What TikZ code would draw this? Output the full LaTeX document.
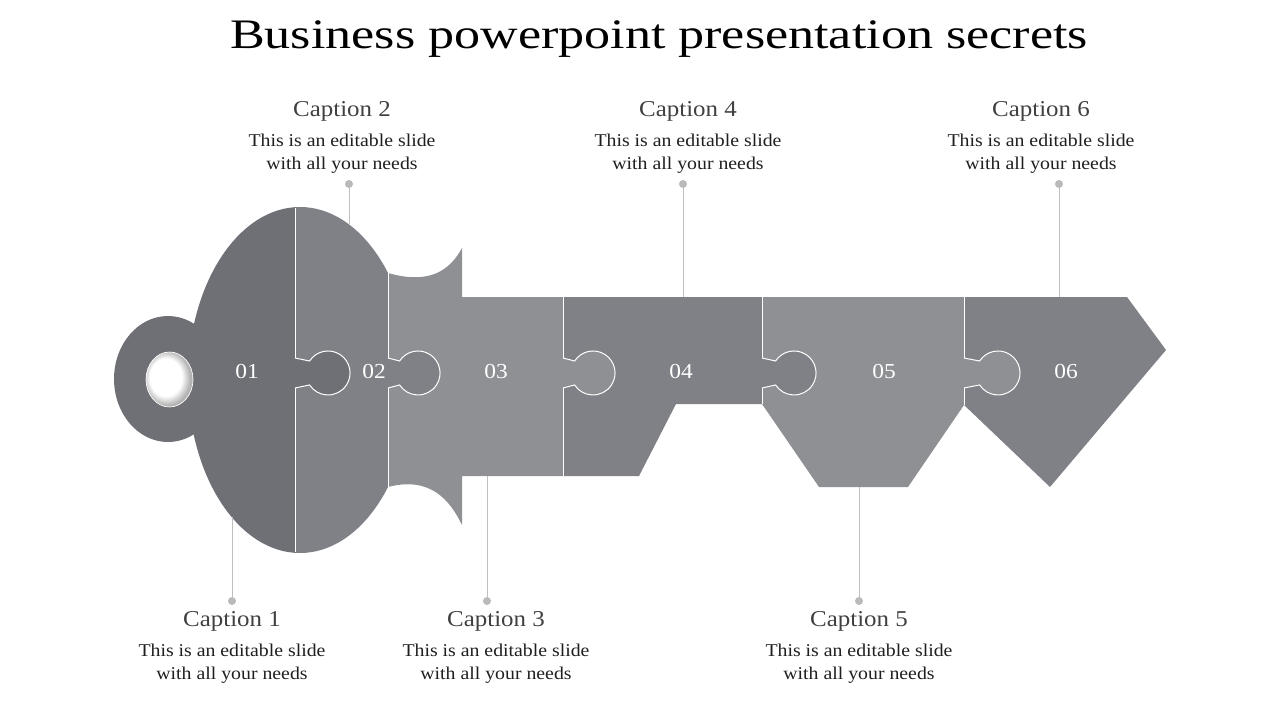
\documentclass[tikz,border=0pt]{standalone}
\usepackage{fontspec}
\setmainfont{Liberation Serif}[FakeStretch=1.1]
\newfontfamily\titlefont{Liberation Serif}[FakeStretch=1.24]
\definecolor{keyA}{RGB}{111,112,117}
\definecolor{keyB}{RGB}{127,129,134}
\definecolor{keyC}{RGB}{142,144,148}
\definecolor{capgray}{RGB}{64,64,64}
\pgfdeclareradialshading{holeshade}{\pgfpoint{-6bp}{3bp}}{color(0bp)=(white); color(17bp)=(white); color(25bp)=(black!30); color(50bp)=(black!30)}
\begin{document}
\begin{tikzpicture}[x=0.75pt,y=-0.75pt,
    numlabel/.style={text=white,font=\fontsize{16}{16}\selectfont},
    captitle/.style={text=capgray,anchor=base,font=\fontsize{17}{17}\selectfont},
    captext/.style={text=black!88,anchor=base,align=center,font=\fontsize{13.5}{17.25}\selectfont},
    leadline/.style={draw=black!25,line width=0.75pt},
    leaddot/.style={circle,fill=black!27,inner sep=0pt,minimum size=6pt},
    seam/.style={draw=white,line width=0.75pt}]
    \useasboundingbox (0,0) rectangle (1280,720);
    \node[anchor=base,font=\titlefont\fontsize{31.5}{33}\selectfont] (title) at (659,49) {Business powerpoint presentation secrets};
    % key head
    \fill[keyA] (168,379) ellipse[x radius=54,y radius=63];
    \begin{scope}
        \clip (0,0) rectangle (295,720);
        \fill[keyA] (300,380) ellipse[x radius=112,y radius=173];
    \end{scope}
    \fill[keyC] (388,273) .. controls (430,285) and (450,270) .. (462,248) -- (462,297) -- (563,297) -- (563,476) -- (462,476) -- (462,525) .. controls (450,500) and (430,476) .. (388,487) -- cycle;
    \begin{scope}
        \clip (295,0) rectangle (388,720);
        \fill[keyB] (300,380) ellipse[x radius=112,y radius=173];
    \end{scope}
    % blade
    \fill[keyB] (563,297) -- (762,297) -- (762,404) -- (676,404) -- (639,476) -- (563,476) -- cycle;
    \fill[keyC] (762,297) -- (964,297) -- (964,405) -- (908,487) -- (819,487) -- (762,404) -- cycle;
    \fill[keyB] (964,297) -- (1127,297) -- (1166,350) -- (1050,487) -- (964,405) -- cycle;
    % seams and tabs
    \foreach \b/\t/\e in {295/208/552, 388/273/487, 563/297/476, 762/297/404, 964/297/405}
        \draw[seam] (\b,\t) -- (\b,358) (\b,388) -- (\b,\e);
    \foreach \b/\c/\col in {295/328/keyA, 388/418/keyB, 563/593/keyC, 762/794/keyB, 964/998/keyC}
        \filldraw[fill=\col,seam] (\b,358) -- (\c-18.4,361) arc[start angle=213,end angle=507,radius=22] -- (\b,388);
    % hole
    \shade[shading=holeshade] (169.5,379.5) ellipse[x radius=23.5,y radius=27.5];
    \draw[white,line width=0.5pt] (169.5,379.5) ellipse[x radius=23.5,y radius=27.5];
    \node[numlabel] (n1) at (247,372) {01};
    \node[numlabel] (n2) at (374,372) {02};
    \node[numlabel] (n3) at (496,372) {03};
    \node[numlabel] (n4) at (681,372) {04};
    \node[numlabel] (n5) at (884,372) {05};
    \node[numlabel] (n6) at (1066,372) {06};
    % leaders
    \node[leaddot] (d1) at (232,601) {};
    \node[leaddot] (d2) at (349,184) {};
    \node[leaddot] (d3) at (487,601) {};
    \node[leaddot] (d4) at (683,184) {};
    \node[leaddot] (d5) at (859,601) {};
    \node[leaddot] (d6) at (1059,184) {};
    \coordinate (e1) at (232,517);
    \coordinate (e2) at (349,224);
    \coordinate (e3) at (487,476);
    \coordinate (e4) at (683,297);
    \coordinate (e5) at (859,487);
    \coordinate (e6) at (1059,297);
    \foreach \i in {1,...,6}
        \draw[leadline] (d\i) -- (e\i);
    % captions
    \node[captitle] (c1) at (232,626) {Caption 1};
    \node[captext] (t1) at (232,679) {This is an editable slide\\with all your needs};
    \node[captitle] (c2) at (342,117) {Caption 2};
    \node[captext] (t2) at (342,170) {This is an editable slide\\with all your needs};
    \node[captitle] (c3) at (496,626) {Caption 3};
    \node[captext] (t3) at (496,679) {This is an editable slide\\with all your needs};
    \node[captitle] (c4) at (688,117) {Caption 4};
    \node[captext] (t4) at (688,170) {This is an editable slide\\with all your needs};
    \node[captitle] (c5) at (859,626) {Caption 5};
    \node[captext] (t5) at (859,679) {This is an editable slide\\with all your needs};
    \node[captitle] (c6) at (1041,117) {Caption 6};
    \node[captext] (t6) at (1041,170) {This is an editable slide\\with all your needs};
\end{tikzpicture}
\end{document}
